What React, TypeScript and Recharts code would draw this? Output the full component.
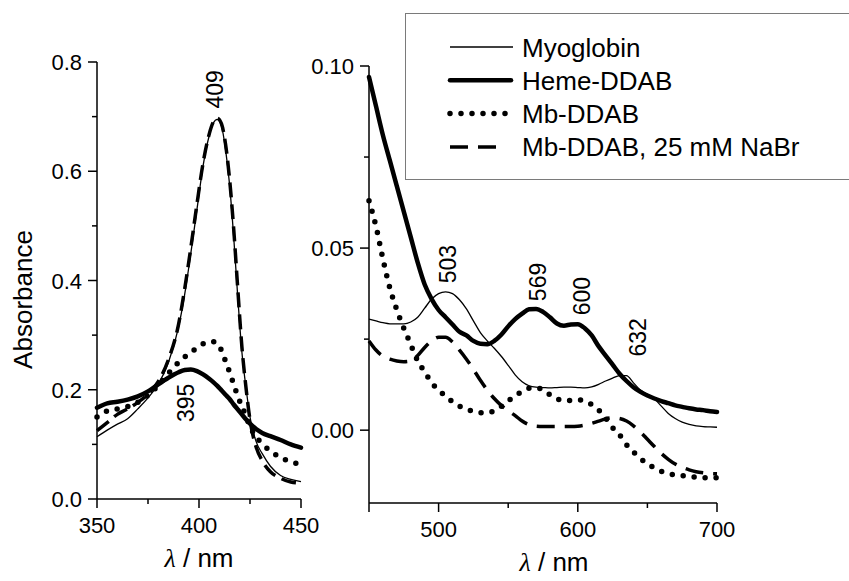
import React from 'react';
import { LineChart, Line, XAxis, YAxis, Legend, ReferenceDot, Label } from 'recharts';

const FONT = '"Liberation Sans", Arial, Helvetica, sans-serif';

// Soret band, left panel (nm / absorbance)
const soretWl = [350, 355, 360, 365, 370, 375, 380, 385, 390, 393, 396, 399, 402, 405, 407, 409, 411, 413, 415, 417, 419, 421, 423, 425, 428, 431, 435, 440, 445, 450];
const soretMyoglobin = [0.114, 0.126, 0.137, 0.147, 0.165, 0.185, 0.21, 0.25, 0.315, 0.375, 0.45, 0.53, 0.61, 0.665, 0.688, 0.695, 0.683, 0.64, 0.575, 0.48, 0.37, 0.27, 0.205, 0.15, 0.105, 0.083, 0.06, 0.043, 0.036, 0.032];
const soretHeme = [0.167, 0.175, 0.178, 0.182, 0.188, 0.197, 0.21, 0.222, 0.232, 0.236, 0.237, 0.234, 0.228, 0.22, 0.214, 0.207, 0.199, 0.191, 0.183, 0.173, 0.164, 0.155, 0.146, 0.138, 0.128, 0.121, 0.115, 0.108, 0.1, 0.094];
const soretMbDdab = [0.15, 0.161, 0.165, 0.169, 0.177, 0.19, 0.208, 0.23, 0.25, 0.26, 0.268, 0.277, 0.284, 0.288, 0.288, 0.285, 0.272, 0.252, 0.232, 0.21, 0.188, 0.17, 0.152, 0.133, 0.114, 0.101, 0.088, 0.076, 0.068, 0.064];
const soretMbNaBr = [0.125, 0.14, 0.155, 0.165, 0.177, 0.192, 0.215, 0.255, 0.32, 0.385, 0.46, 0.54, 0.615, 0.668, 0.69, 0.697, 0.687, 0.65, 0.585, 0.495, 0.385, 0.28, 0.205, 0.145, 0.095, 0.07, 0.05, 0.038, 0.031, 0.029];

// Q bands, right panel
const qWl = [450, 455, 460, 465, 470, 475, 480, 485, 490, 495, 500, 505, 510, 515, 520, 525, 530, 535, 540, 545, 550, 555, 560, 565, 570, 575, 580, 585, 590, 595, 600, 605, 610, 615, 620, 625, 630, 635, 640, 645, 650, 655, 660, 665, 670, 675, 680, 685, 690, 695, 700];
const qMyoglobin = [0.0305, 0.03, 0.0295, 0.0292, 0.0292, 0.0292, 0.0297, 0.031, 0.0335, 0.036, 0.0375, 0.038, 0.0375, 0.0358, 0.0333, 0.03, 0.0268, 0.0245, 0.0225, 0.0203, 0.0178, 0.0152, 0.0133, 0.0122, 0.0118, 0.0117, 0.0116, 0.0117, 0.0118, 0.0118, 0.0117, 0.0116, 0.0119, 0.0126, 0.0135, 0.0143, 0.015, 0.015, 0.013, 0.011, 0.0098, 0.0086, 0.0066, 0.0046, 0.0032, 0.0022, 0.0016, 0.0012, 0.001, 0.0009, 0.0008];
const qHeme = [0.097, 0.089, 0.081, 0.074, 0.067, 0.06, 0.053, 0.046, 0.04, 0.036, 0.033, 0.031, 0.029, 0.027, 0.026, 0.0245, 0.0237, 0.0236, 0.0245, 0.0262, 0.0285, 0.0305, 0.032, 0.0332, 0.0333, 0.0325, 0.031, 0.0293, 0.0287, 0.029, 0.0291, 0.028, 0.026, 0.023, 0.0205, 0.018, 0.0155, 0.0135, 0.0118, 0.0105, 0.0095, 0.0087, 0.008, 0.0074, 0.0068, 0.0064, 0.006, 0.0057, 0.0055, 0.0052, 0.005];
const qMbDdab = [0.063, 0.056, 0.047, 0.039, 0.033, 0.028, 0.0235, 0.019, 0.016, 0.013, 0.011, 0.0093, 0.0078, 0.0066, 0.0058, 0.0051, 0.0048, 0.0048, 0.0053, 0.0065, 0.008, 0.0095, 0.0106, 0.0115, 0.0116, 0.0111, 0.0097, 0.0086, 0.0081, 0.0082, 0.0083, 0.008, 0.007, 0.0055, 0.0033, 0.0007, -0.0013, -0.004, -0.006, -0.0078, -0.0092, -0.0104, -0.0113, -0.0119, -0.0123, -0.0125, -0.0127, -0.0129, -0.013, -0.0131, -0.0131];
const qMbNaBr = [0.0245, 0.022, 0.0203, 0.0195, 0.019, 0.0188, 0.019, 0.0205, 0.0227, 0.0245, 0.0255, 0.0255, 0.0242, 0.022, 0.0195, 0.0167, 0.0137, 0.011, 0.0087, 0.0068, 0.0053, 0.004, 0.0025, 0.0015, 0.0011, 0.001, 0.001, 0.001, 0.001, 0.001, 0.0011, 0.0014, 0.0019, 0.0025, 0.0031, 0.0034, 0.0032, 0.0025, 0.0012, -0.0005, -0.0025, -0.0045, -0.0064, -0.008, -0.0093, -0.0102, -0.0109, -0.0114, -0.0117, -0.0119, -0.012];

// axis ticks
const soretXTicks = [350, 375, 400, 425, 450];
const soretXLabels = [350, 400, 450];
const soretYTicks = [0, 0.1, 0.2, 0.3, 0.4, 0.5, 0.6, 0.7, 0.8];
const soretYLabels = [0, 0.2, 0.4, 0.6, 0.8];
const qXTicks = [450, 500, 550, 600, 650, 700];
const qXMajor = [450, 500, 600, 700];
const qXLabels = [500, 600, 700];
const qYTicks = [0, 0.025, 0.05, 0.075, 0.1];
const qYLabels = [0, 0.05, 0.1];

// peak annotations: wavelength label and where it sits
const soretPeaks = [
    { text: '409', wl: 408, abs: 0.75 },
    { text: '395', wl: 393.5, abs: 0.176 },
];
const qPeaks = [
    { text: '503', wl: 507, abs: 0.0456 },
    { text: '569', wl: 571.5, abs: 0.0407 },
    { text: '600', wl: 603, abs: 0.0368 },
    { text: '632', wl: 643, abs: 0.0255 },
];

const series = [
    { key: 'myo', name: 'Myoglobin', width: 1.3, dash: undefined, cap: 'butt', legendLen: 63 },
    { key: 'heme', name: 'Heme-DDAB', width: 4.5, dash: undefined, cap: 'round', legendLen: 61 },
    { key: 'mb', name: 'Mb-DDAB', width: 5.5, dash: '0 11', cap: 'round', legendLen: 56 },
    { key: 'nabr', name: 'Mb-DDAB, 25 mM NaBr', width: 3.5, dash: '18 10', cap: 'butt', legendLen: 47 },
];

const soretData = soretWl.map((x, i) => ({
    x, myo: soretMyoglobin[i], heme: soretHeme[i], mb: soretMbDdab[i], nabr: soretMbNaBr[i],
}));
const qData = qWl.map((x, i) => ({
    x, myo: qMyoglobin[i], heme: qHeme[i], mb: qMbDdab[i], nabr: qMbNaBr[i],
}));

const has = (arr: number[], v: number) => arr.some(a => Math.abs(a - v) < 1e-9);

const makeYTick = (labels: number[], digits: number) => (props: any) => {
    const { x, y, payload } = props;
    const v = payload.value;
    const major = has(labels, v);
    const len = major ? 9 : 5;
    return (
        <g>
            <line x1={x - len} x2={x} y1={y} y2={y} stroke="#000" strokeWidth={1.5} />
            {major && (
                <text x={x - 15} y={y + 8} textAnchor="end" fontSize={22} fontFamily={FONT} fill="#000">
                    {v.toFixed(digits)}
                </text>
            )}
        </g>
    );
};

const makeXTick = (major: number[], labels: number[]) => (props: any) => {
    const { x, y, payload } = props;
    const v = payload.value;
    const len = has(major, v) ? 9 : 5;
    return (
        <g>
            <line x1={x} x2={x} y1={y} y2={y + len} stroke="#000" strokeWidth={1.5} />
            {has(labels, v) && (
                <text x={x} y={y + 34} textAnchor="middle" fontSize={22} fontFamily={FONT} fill="#000">
                    {v}
                </text>
            )}
        </g>
    );
};

const peakShape = (text: string) => (props: any) => {
    const { cx, cy } = props;
    return (
        <text x={cx} y={cy} transform={`rotate(-90 ${cx} ${cy})`} textAnchor="middle" dominantBaseline="central"
            fontSize={23} fontFamily={FONT} fill="#000">
            {text}
        </text>
    );
};

const xTitle = (dx: number, dy: number) => (props: any) => {
    const vb = props.viewBox || {};
    return (
        <text x={vb.x + vb.width / 2 + dx} y={vb.y + dy} textAnchor="middle" fontSize={26} fontFamily={FONT} fill="#000">
            <tspan fontStyle="italic" fontFamily='"Liberation Serif", serif'>λ</tspan> / nm
        </text>
    );
};

const yTitle = (props: any) => {
    const vb = props.viewBox || {};
    const cx = vb.x - 14;
    const cy = vb.y + vb.height / 2 + 19;
    return (
        <text x={cx} y={cy} transform={`rotate(-90 ${cx} ${cy})`} textAnchor="middle" dominantBaseline="central"
            fontSize={26} fontFamily={FONT} fill="#000">
            Absorbance
        </text>
    );
};

const LegendBox = () => (
    <div style={{ width: 446, height: 167, border: '1.5px solid #7a7a7a', boxSizing: 'border-box', background: '#fff' }}>
        <svg width={444} height={164} style={{ display: 'block' }}>
            {series.map((s, i) => {
                const cy = 33 + i * 33.3;
                return (
                    <g key={s.key}>
                        <line x1={44} x2={44 + s.legendLen} y1={cy} y2={cy} stroke="#000" strokeWidth={s.width}
                            strokeDasharray={s.dash} strokeLinecap={s.cap as any} />
                        <text x={116} y={cy + 9.5} fontSize={26} fontFamily={FONT} fill="#000">{s.name}</text>
                    </g>
                );
            })}
        </svg>
    </div>
);

const lines = (dashOverride?: string) => series.map(s => (
    <Line key={s.key} type="monotone" dataKey={s.key} name={s.name} stroke="#000" strokeWidth={s.width}
        strokeDasharray={s.key === 'nabr' && dashOverride ? dashOverride : s.dash}
        strokeLinecap={s.cap as any} dot={false} activeDot={false} isAnimationActive={false} />
));

export default function App() {
    return (
        <div style={{ position: 'absolute', left: 0, top: 0, width: 849, height: 581, overflow: 'hidden', background: '#fff' }}>
            <div style={{ position: 'absolute', left: 0, top: 0 }}>
                <LineChart width={849} height={581} data={soretData} margin={{ top: 62, right: 548, bottom: 52, left: 37 }}>
                    <XAxis dataKey="x" type="number" domain={[350, 450]} ticks={soretXTicks} interval={0}
                        tickSize={0} tickMargin={0} tickLine={false} height={30}
                        axisLine={{ stroke: '#000', strokeWidth: 1.5 }} tick={makeXTick(soretXLabels, soretXLabels)}>
                        <Label content={xTitle(0, 68)} />
                    </XAxis>
                    <YAxis type="number" domain={[0, 0.8]} ticks={soretYTicks} interval={0} width={60}
                        tickSize={0} tickMargin={0} tickLine={false}
                        axisLine={{ stroke: '#000', strokeWidth: 1.5 }} tick={makeYTick(soretYLabels, 1)}>
                        <Label content={yTitle} />
                    </YAxis>
                    {lines('15 7')}
                    {soretPeaks.map(p => (
                        <ReferenceDot key={p.text} x={p.wl} y={p.abs} r={0} shape={peakShape(p.text)} />
                    ))}
                </LineChart>
            </div>
            <div style={{ position: 'absolute', left: 0, top: 0 }}>
                <LineChart width={849} height={581} data={qData} margin={{ top: 66, right: 132, bottom: 48, left: 309 }}>
                    <XAxis dataKey="x" type="number" domain={[450, 700]} ticks={qXTicks} interval={0}
                        tickSize={0} tickMargin={0} tickLine={false} height={30}
                        axisLine={{ stroke: '#000', strokeWidth: 1.5 }} tick={makeXTick(qXMajor, qXLabels)}>
                        <Label content={xTitle(11, 68)} />
                    </XAxis>
                    <YAxis type="number" domain={[-0.02, 0.1]} ticks={qYTicks} interval={0} width={60}
                        tickSize={0} tickMargin={0} tickLine={false} allowDataOverflow
                        axisLine={{ stroke: '#000', strokeWidth: 1.5 }} tick={makeYTick(qYLabels, 2)} />
                    {lines()}
                    {qPeaks.map(p => (
                        <ReferenceDot key={p.text} x={p.wl} y={p.abs} r={0} shape={peakShape(p.text)} />
                    ))}
                    <Legend layout="vertical" align="center" verticalAlign="middle" content={LegendBox}
                        wrapperStyle={{ left: 405, top: 13, width: 446, height: 167 }} />
                </LineChart>
            </div>
        </div>
    );
}
